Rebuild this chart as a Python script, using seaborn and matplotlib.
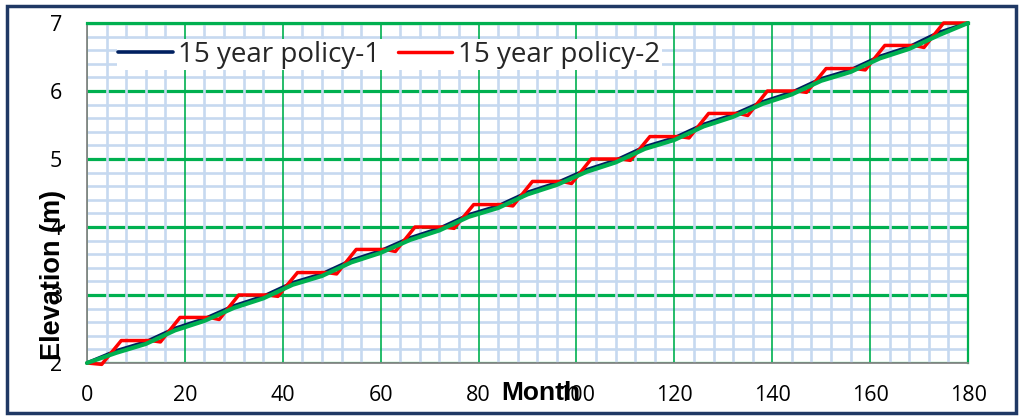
import numpy as np
import pandas as pd
import matplotlib
matplotlib.use("Agg")
import matplotlib.pyplot as plt
import matplotlib.patches as patches
import seaborn as sns

# Policy-1 elevation, read every 6 months
month_p1 = [0, 6, 12, 18, 24, 30, 36, 42, 48, 54, 60, 66, 72, 78, 84, 90,
            96, 102, 108, 114, 120, 126, 132, 138, 144, 150, 156, 162, 168, 174, 180]
elev_p1 = [2.00, 2.18, 2.31, 2.51, 2.65, 2.84, 2.98, 3.18, 3.31, 3.51, 3.65,
           3.84, 3.98, 4.18, 4.31, 4.51, 4.65, 4.84, 4.98, 5.18, 5.31, 5.51,
           5.65, 5.84, 5.98, 6.18, 6.31, 6.51, 6.65, 6.86, 7.00]
# green trend line (same months, no legend entry)
elev_trend = [2.00, 2.15, 2.28, 2.48, 2.62, 2.81, 2.95, 3.15, 3.28, 3.48, 3.62,
              3.81, 3.95, 4.15, 4.28, 4.48, 4.62, 4.81, 4.95, 5.15, 5.28, 5.48,
              5.62, 5.81, 5.95, 6.15, 6.28, 6.48, 6.62, 6.82, 7.00]

# Policy-2: stepped, corners
month_p2 = [0, 3, 7, 13, 15, 19, 25, 27, 31, 37, 39, 43, 49, 51, 55, 61, 63,
            67, 73, 75, 79, 85, 87, 91, 97, 99, 103, 109, 111, 115, 121, 123,
            127, 133, 135, 139, 145, 147, 151, 157, 159, 163, 169, 171, 175, 180]
elev_p2 = [2.00, 1.98, 2.33, 2.33, 2.31, 2.67, 2.67, 2.64, 3.00, 3.00, 2.98,
           3.33, 3.33, 3.31, 3.67, 3.67, 3.64, 4.00, 4.00, 3.98, 4.33, 4.33,
           4.31, 4.67, 4.67, 4.64, 5.00, 5.00, 4.98, 5.33, 5.33, 5.31, 5.67,
           5.67, 5.64, 6.00, 6.00, 5.98, 6.33, 6.33, 6.31, 6.67, 6.67, 6.64,
           7.00, 7.00]

x_ticks = [0, 20, 40, 60, 80, 100, 120, 140, 160, 180]
y_ticks = [2, 3, 4, 5, 6, 7]

df1 = pd.DataFrame({"Month": month_p1, "p1": elev_p1, "trend": elev_trend})
df2 = pd.DataFrame({"Month": month_p2, "p2": elev_p2})

sns.set_style("white")
plt.rcParams["font.family"] = ["Open Sans", "DejaVu Sans"]

navy = "#002060"
red = "#FF0000"
green = "#00B050"
light_blue = "#C6D9F0"
grey = "#868686"

fig = plt.figure(figsize=(10.19, 4.16), dpi=100)
ax = fig.add_axes([0.0854, 0.1274, 0.8646, 0.8173])

sns.lineplot(data=df1, x="Month", y="p1", ax=ax, color=navy, lw=2.6,
             label="15 year policy-1", zorder=3, clip_on=False)
sns.lineplot(data=df2, x="Month", y="p2", ax=ax, color=red, lw=2.5,
             label="15 year policy-2", zorder=3, clip_on=False)
sns.lineplot(data=df1, x="Month", y="trend", ax=ax, color=green, lw=3.0,
             zorder=3, clip_on=False)

ax.set_xlim(0, 180)
ax.set_ylim(2, 7)
ax.set_xticks(x_ticks)
ax.set_yticks(y_ticks)
ax.set_xticks(np.arange(0, 181, 4), minor=True)
ax.set_yticks(np.arange(2, 7.01, 0.2), minor=True)

# gridlines: light blue minor, green major
ax.grid(which="minor", color=light_blue, lw=1.9)
ax.xaxis.grid(True, which="major", color=green, lw=1.2)
ax.yaxis.grid(True, which="major", color=green, lw=2.3)
ax.xaxis.set_zorder(0.6)

ax.tick_params(which="minor", length=0)
ax.tick_params(which="major", length=6, width=1.2, color=grey,
               labelsize=15.5, labelcolor="black")
ax.tick_params(axis="x", pad=10)
ax.tick_params(axis="y", pad=12)

for side in ["left", "bottom"]:
    ax.spines[side].set_color(grey)
    ax.spines[side].set_linewidth(1.3)
ax.spines["top"].set_color(green)
ax.spines["top"].set_linewidth(2.3)
ax.spines["right"].set_color(green)
ax.spines["right"].set_linewidth(1.6)

ax.set_xlabel("Month", fontsize=19, fontweight="bold", family="Liberation Sans",
              color="black")
ax.xaxis.set_label_coords(0.515, -0.088)
ax.xaxis.label.set_va("center")
ax.set_ylabel("Elevation (m)", fontsize=19.5, fontweight="bold",
              family="Liberation Sans", color="black")
ax.yaxis.set_label_coords(-0.039, 0.26)
ax.yaxis.label.set_va("center")

handles, labels = ax.get_legend_handles_labels()
leg = ax.legend(handles[:2], labels[:2], loc="upper left", ncol=2,
                bbox_to_anchor=(0.034, 0.952), fontsize=20, frameon=True,
                fancybox=False, borderpad=0.05, borderaxespad=0,
                handlelength=1.95, handletextpad=0.2, columnspacing=0.65)
leg.get_frame().set_facecolor("white")
leg.get_frame().set_edgecolor("none")
leg.get_frame().set_alpha(1)

# dark blue outer frame
fig.patches.append(patches.Rectangle((0.0064, 0.0084), 0.9902, 0.976,
                                     transform=fig.transFigure, fill=False,
                                     edgecolor="#1F3864", lw=2.5))

fig.savefig("out.png", dpi=100)
